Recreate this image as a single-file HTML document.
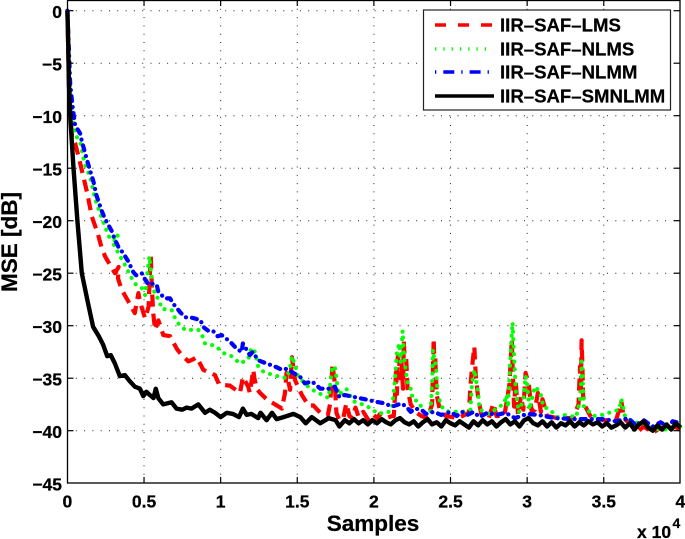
<!DOCTYPE html>
<html>
<head>
<meta charset="utf-8">
<title>MSE chart</title>
<style>
html,body{margin:0;padding:0;background:#fff;}
svg{display:block;}
text{font-family:"Liberation Sans",sans-serif;font-weight:bold;fill:#000;stroke:#000;stroke-width:0.25px;}
</style>
</head>
<body>
<svg id="chart" xmlns="http://www.w3.org/2000/svg" width="685" height="539" viewBox="0 0 685 539">
<rect width="685" height="539" fill="#fff"/>
<g id="grid"></g>
<g id="series"></g>
<g id="axes"></g>
<text transform="translate(17,242) rotate(-90)" text-anchor="middle" font-size="22.5">MSE [dB]</text>
<text x="373" y="531" text-anchor="middle" font-size="22.5">Samples</text>
<text x="637" y="538" font-size="17.5">x 10</text>
<text x="672.5" y="528" font-size="14">4</text>
<g>
<rect x="423.5" y="10" width="247" height="100" fill="#fff" stroke="#222" stroke-width="1.2"/>
<line x1="435" x2="492" y1="25" y2="25" stroke="#f00" stroke-width="3.5" stroke-dasharray="11 12"/>
<line x1="435" x2="487" y1="49" y2="49" stroke="#0f0" stroke-width="3.5" stroke-dasharray="1.3 7"/>
<line x1="435" x2="491" y1="72" y2="72" stroke="#00f" stroke-width="3.5" stroke-dasharray="1.3 7 11 7"/>
<line x1="435" x2="494" y1="96" y2="96" stroke="#000" stroke-width="3.5"/>
<text x="500" y="31.5" font-size="18.6">IIR–SAF–LMS</text>
<text x="500" y="55.5" font-size="18.6">IIR–SAF–NLMS</text>
<text x="500" y="78.5" font-size="18.6">IIR–SAF–NLMM</text>
<text x="500" y="102.5" font-size="18.6">IIR–SAF–SMNLMM</text>
</g>
</svg>
<script>
const xTickValues = [0, 0.5, 1, 1.5, 2, 2.5, 3, 3.5, 4];
const xTickLabels = ["0", "0.5", "1", "1.5", "2", "2.5", "3", "3.5", "4"];
const yTickValues = [0, -5, -10, -15, -20, -25, -30, -35, -40, -45];
const yTickLabels = ["0", "−5", "−10", "−15", "−20", "−25", "−30", "−35", "−40", "−45"];

const lmsSamples = [0,.01,.02,.03,.05,.083,.13,.159,.198,.224,.246,.278,.31,.335,.33,.355,.398,.44,.463,.475,.507,.53,.537,.544,.55,.56,.572,.594,.626,.67,.714,.746,.79,.82,.844,.887,.963,.99,1.06,1.126,1.145,1.18,1.19,1.213,1.22,1.235,1.257,1.3,1.4,1.42,1.43,1.453,1.465,1.486,1.53,1.573,1.605,1.65,1.7,1.715,1.73,1.745,1.755,1.775,1.80,1.82,1.84,1.86,1.88,1.9,1.93,1.96,1.99,2.02,2.04,2.08,2.12,2.13,2.14,2.145,2.15,2.155,2.165,2.17,2.18,2.19,2.195,2.2,2.21,2.22,2.24,2.27,2.31,2.35,2.38,2.39,2.395,2.4,2.41,2.43,2.47,2.55,2.62,2.63,2.64,2.655,2.665,2.68,2.7,2.75,2.78,2.8,2.85,2.87,2.885,2.9,2.905,2.915,2.925,2.94,2.96,2.975,2.99,3.0,3.01,3.03,3.05,3.07,3.09,3.1,3.13,3.2,3.3,3.335,3.345,3.35,3.355,3.36,3.365,3.38,3.42,3.5,3.58,3.605,3.615,3.63,3.66,3.7,3.73,3.76,3.82,3.87,3.92,3.96,4.0];
const lmsValues = [0,-7,-10,-12,-12.6,-14.5,-17.4,-19.6,-21.2,-22.6,-23.4,-24.2,-25,-24.4,-25.5,-26.6,-27.7,-28.8,-26.9,-27.8,-29.3,-28.2,-25.5,-23.4,-26,-28.8,-30.4,-29.5,-30.9,-31,-32.2,-32.8,-33.4,-33.2,-33,-34.2,-34.7,-35.6,-35.7,-36.4,-34.9,-35.8,-36.4,-34.2,-35,-36,-36.4,-37,-37.9,-36.4,-34.5,-36.1,-33,-35.2,-36.6,-37.6,-37.6,-38.3,-38.5,-37.4,-33.7,-35.5,-38.3,-39,-38.8,-37.4,-38.6,-38.8,-37.8,-38.7,-38.2,-38.9,-38.4,-38.8,-38.4,-38.8,-38.6,-38.6,-36,-34,-36.5,-33,-33.5,-35,-33.5,-36,-31.5,-33,-33,-36,-37.5,-38.2,-38.6,-38.8,-37.5,-31.2,-34,-33,-36.6,-38,-38.6,-38.8,-38.3,-35.8,-34,-32,-34.8,-36.8,-38.4,-38.8,-37.4,-38.6,-38.6,-37,-35.5,-31.3,-34,-37.7,-35.2,-38.5,-36.7,-38,-34.5,-35,-35.5,-38.2,-38,-36.4,-38.2,-37,-38.6,-38.8,-38.8,-37.5,-33.9,-36.5,-31.4,-33.5,-36.7,-37.7,-38.8,-39,-39,-37.8,-37.2,-38.8,-39.2,-39.5,-40,-39.6,-40.2,-39.7,-40.1,-39.6,-39.9];

const nlmsSamples = [0,.018,.05,.083,.115,.148,.18,.213,.246,.28,.326,.33,.29,.31,.344,.365,.42,.448,.485,.507,.522,.535,.55,.572,.594,.616,.68,.70,.724,.768,.81,.855,.89,.898,.96,.996,1.017,1.07,1.126,1.18,1.2,1.225,1.245,1.28,1.344,1.43,1.45,1.465,1.486,1.507,1.585,1.65,1.705,1.72,1.73,1.745,1.77,1.82,1.866,1.91,1.986,2.025,2.10,2.12,2.137,2.15,2.165,2.175,2.187,2.195,2.208,2.225,2.247,2.25,2.29,2.33,2.37,2.38,2.385,2.395,2.405,2.415,2.45,2.49,2.58,2.63,2.64,2.655,2.68,2.69,2.75,2.85,2.865,2.875,2.888,2.9,2.905,2.915,2.925,2.945,2.975,2.99,3.0,3.015,3.05,3.07,3.085,3.105,3.15,3.195,3.24,3.32,3.35,3.355,3.362,3.37,3.435,3.49,3.6,3.615,3.63,3.64,3.7,3.76,3.82,3.9,4.0];
const nlmsValues = [0,-7.9,-11.8,-12.5,-14.7,-15.8,-17.9,-19.3,-20.6,-21.8,-21.2,-21.8,-21.9,-22.5,-23.4,-23.9,-25.5,-26.1,-26.4,-27.1,-25,-23.4,-25.5,-27.2,-27.4,-28.4,-28.5,-29.2,-29.8,-30.4,-30.4,-30.4,-31.2,-31.7,-31.9,-32.3,-32.6,-32.9,-33.6,-33.2,-32.1,-32.5,-33.9,-34.4,-34.7,-35,-34.2,-32.9,-33.8,-34.9,-36,-36.5,-36.9,-34.9,-33.9,-33.9,-36.6,-36,-37.2,-37.4,-37.9,-38.4,-38.2,-37.7,-35.2,-32.6,-31.7,-33.5,-30.5,-32.5,-34.4,-35.8,-36.1,-37,-37.2,-38.3,-38.2,-35.5,-32.3,-33.2,-33.9,-36.6,-37.9,-38.2,-38.2,-38,-35.5,-34.2,-36.3,-38,-38.4,-37.4,-36.6,-37.8,-33.9,-30.7,-29.7,-33,-36.1,-38.3,-37,-34.8,-35.4,-38,-35.8,-36.1,-36.3,-37.7,-38,-38.7,-38.5,-38.7,-36.7,-33.4,-35,-37.7,-38.6,-38.5,-38,-37,-38,-38.7,-39.2,-39.3,-39.8,-39.9,-39.6];

const nlmmSamples = [0,.018,.035,.05,.083,.095,.122,.137,.17,.19,.225,.245,.29,.31,.333,.365,.398,.43,.448,.485,.507,.53,.555,.583,.594,.637,.67,.69,.713,.735,.768,.8,.83,.87,.885,.92,.95,.98,1.007,1.06,1.105,1.137,1.145,1.166,1.19,1.21,1.245,1.3,1.355,1.4,1.43,1.475,1.52,1.55,1.595,1.65,1.705,1.745,1.775,1.81,1.875,1.94,2.0,2.07,2.12,2.18,2.21,2.24,2.27,2.31,2.34,2.39,2.44,2.5,2.54,2.575,2.61,2.65,2.69,2.74,2.8,2.86,2.92,3.0,3.07,3.18,3.3,3.42,3.5,3.58,3.66,3.71,3.76,3.82,3.87,3.92,3.95,4.0];
const nlmmValues = [0,-7,-9.3,-10.9,-11.7,-12.5,-13.9,-14.7,-16.3,-17.6,-19.1,-19.8,-21,-21.8,-22.5,-23.1,-23.9,-24.9,-25.2,-25,-25.6,-26.1,-26,-26.1,-26.8,-27.4,-27.4,-27.9,-28.3,-28.7,-29.2,-29.2,-29.3,-29.5,-30.1,-30.5,-30.5,-31,-30.9,-31.5,-32.2,-32.5,-31.7,-32.2,-32.8,-32.5,-33.3,-33.6,-33.9,-34.2,-34.1,-34.5,-34.9,-35.5,-35.3,-36,-36,-35.8,-36.8,-36.6,-36.8,-37,-37.2,-37.4,-37.7,-37.4,-37.7,-38.2,-37.9,-38,-38.4,-38.2,-38.5,-38.2,-38.6,-38.2,-38.5,-38.2,-38.7,-38.3,-38.5,-38.3,-38.8,-38.4,-38.5,-38.8,-38.9,-38.9,-38.9,-39.1,-38.8,-39.5,-39,-39.6,-39.2,-39.6,-39.1,-39.3];

const smnlmmSamples = [0,.005,.01,.018,.04,.065,.094,.135,.168,.205,.233,.26,.283,.31,.342,.375,.407,.44,.473,.495,.516,.538,.562,.577,.593,.625,.68,.712,.75,.778,.81,.854,.898,.93,.963,1.0,1.04,1.08,1.12,1.145,1.17,1.2,1.245,1.26,1.3,1.335,1.365,1.41,1.475,1.52,1.555,1.595,1.65,1.705,1.75,1.775,1.81,1.84,1.87,1.9,1.93,1.96,1.99,2.02,2.05,2.08,2.11,2.14,2.17,2.2,2.23,2.26,2.29,2.32,2.35,2.38,2.41,2.44,2.47,2.5,2.53,2.56,2.59,2.62,2.65,2.68,2.71,2.74,2.77,2.8,2.83,2.86,2.89,2.92,2.95,2.98,3.01,3.04,3.07,3.1,3.13,3.16,3.19,3.22,3.25,3.28,3.31,3.34,3.37,3.4,3.43,3.46,3.49,3.52,3.55,3.58,3.61,3.64,3.67,3.7,3.73,3.76,3.79,3.82,3.85,3.88,3.91,3.94,3.97,4.0];
const smnlmmValues = [0,-3,-7,-10,-15,-20,-25,-27.9,-30.1,-31,-31.8,-32.9,-32.8,-33.6,-34.8,-34.7,-35.3,-35.8,-36,-36.7,-36.3,-36.6,-36.9,-36,-36.9,-37.5,-37.3,-37.9,-38,-37.8,-37.9,-37.5,-38.3,-38,-38.3,-38.7,-38.3,-38.4,-38.7,-37.9,-38.5,-38.4,-38.8,-38.3,-39,-38.3,-38.9,-38.7,-38.4,-38.7,-39.3,-38.7,-39.3,-38.8,-39,-39.6,-39,-39.3,-38.9,-39.3,-39,-39.4,-39,-39.3,-38.9,-39.2,-39.4,-39,-38.8,-39.2,-39.4,-39.1,-39.6,-39.2,-38.9,-39.4,-39.2,-39.6,-39,-39.3,-39.5,-39.1,-39.4,-39.7,-39.1,-39.5,-39,-39.4,-39.1,-39.6,-39.2,-38.9,-39.4,-39.1,-39.6,-39,-38.8,-39.3,-39.5,-39.1,-39.6,-39.2,-39.7,-39.3,-39.5,-39.1,-39.6,-39.2,-39.5,-39.1,-39.4,-39.2,-39.6,-39.3,-39.7,-39.5,-39.2,-39.7,-39.3,-39.9,-39.4,-39.1,-39.7,-40,-39.5,-39.9,-39.4,-39.9,-39.3,-39.7];

const NS = "http://www.w3.org/2000/svg";
function sx(v){ return 67.4 + 153.25 * v; }
function sy(v){ return 10.7 - 10.5 * v; }

const grid = document.getElementById("grid");
const axes = document.getElementById("axes");
const seriesGroup = document.getElementById("series");

function mk(parent, tag, attrs){
  const el = document.createElementNS(NS, tag);
  for (const k in attrs) el.setAttribute(k, attrs[k]);
  parent.appendChild(el);
  return el;
}

xTickValues.forEach(function(v, i){
  const x = sx(v);
  if (i > 0 && i < xTickValues.length - 1) {
    const g = mk(grid, "line", {x1:x, x2:x, y1:0.5, y2:483, stroke:"#222", "stroke-width":1, "stroke-dasharray":"1 7.3"});
    
    
    const t1 = mk(axes, "line", {x1:x, x2:x, y1:483, y2:477, stroke:"#000", "stroke-width":1.2});
    
    
    const t2 = mk(axes, "line", {x1:x, x2:x, y1:0.5, y2:6, stroke:"#000", "stroke-width":1.2});
    
    
  }
  const lbl = mk(axes, "text", {x:x, y:507.5, "text-anchor":"middle", "font-size":17.5});
  
  
  lbl.textContent = xTickLabels[i];
});

yTickValues.forEach(function(v, i){
  const y = sy(v);
  if (i < yTickValues.length - 1) {
    const g = mk(grid, "line", {x1:67.5, x2:680, y1:y, y2:y, stroke:"#222", "stroke-width":1, "stroke-dasharray":"1 7.3"});
    
    
    const t1 = mk(axes, "line", {x1:67.5, x2:73.5, y1:y, y2:y, stroke:"#000", "stroke-width":1.2});
    
    
    const t2 = mk(axes, "line", {x1:674, x2:680, y1:y, y2:y, stroke:"#000", "stroke-width":1.2});
    
    
  }
  const lbl = mk(axes, "text", {x:62, y:y + 7.5, "text-anchor":"end", "font-size":17.5});
  
  
  lbl.textContent = yTickLabels[i];
});

const frame = mk(axes, "rect", {x:67.5, y:0.5, width:612.5, height:482.5, fill:"none", stroke:"#000", "stroke-width":1.3});



function pathFrom(xs, ys){
  return xs.map(function(v, i){
    return (i ? "L" : "M") + sx(v).toFixed(1) + " " + sy(ys[i]).toFixed(1);
  }).join(" ");
}

const lmsLine = mk(seriesGroup, "path", {d:pathFrom(lmsSamples, lmsValues), fill:"none", stroke:"#f00", "stroke-width":4.2, "stroke-dasharray":"12 7", "stroke-linejoin":"round"});



const nlmsLine = mk(seriesGroup, "path", {d:pathFrom(nlmsSamples, nlmsValues), fill:"none", stroke:"#0f0", "stroke-width":4, "stroke-dasharray":"0.1 7.4", "stroke-linecap":"round", "stroke-linejoin":"round"});



const nlmmLine = mk(seriesGroup, "path", {d:pathFrom(nlmmSamples, nlmmValues), fill:"none", stroke:"#00f", "stroke-width":4.2, "stroke-dasharray":"5 6 0.1 6", "stroke-linecap":"round", "stroke-linejoin":"round"});



const smnlmmLine = mk(seriesGroup, "path", {d:pathFrom(smnlmmSamples, smnlmmValues), fill:"none", stroke:"#000", "stroke-width":4.4, "stroke-linejoin":"round"});


</script>
</body>
</html>
